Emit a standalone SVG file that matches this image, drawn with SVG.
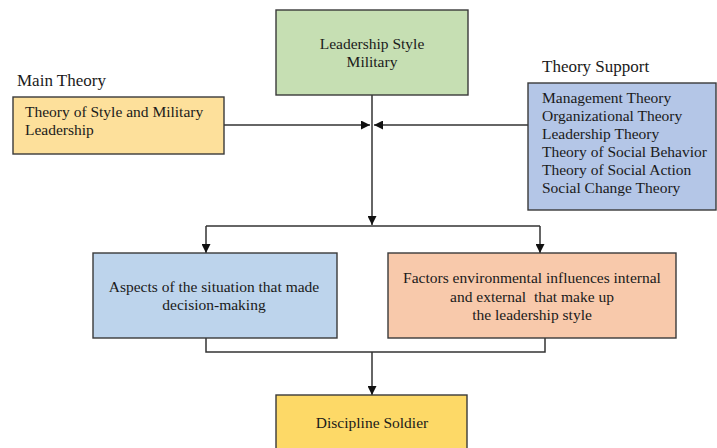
<svg xmlns="http://www.w3.org/2000/svg" width="717" height="448" viewBox="0 0 717 448">
<style>
text{font-family:"Liberation Serif","Times New Roman",serif;font-size:15.5px;fill:#1a1a1a;white-space:pre}
.lbl{font-size:17px}
.c{text-anchor:middle}
rect{stroke:#3a3a3a;stroke-width:1.4}
.ln{fill:none;stroke:#333;stroke-width:1.5}
</style>
<defs>
<marker id="ah" markerUnits="userSpaceOnUse" markerWidth="9" markerHeight="9" refX="9" refY="4.5" orient="auto" viewBox="0 0 9 9">
<path d="M0,0 L9,4.5 L0,9 z" fill="#111"/>
</marker>
</defs>
<rect width="717" height="448" fill="#fff" style="stroke:none"/>
<g id="connectors">
<path class="ln" d="M372,95 V225" marker-end="url(#ah)"/>
<path class="ln" d="M224,125 H370" marker-end="url(#ah)"/>
<path class="ln" d="M528,125 H374" marker-end="url(#ah)"/>
<path class="ln" d="M206,226 H540"/>
<path class="ln" d="M206,226 V253" marker-end="url(#ah)"/>
<path class="ln" d="M540,226 V253" marker-end="url(#ah)"/>
<path class="ln" d="M206,338 V352 H545 V338"/>
<path class="ln" d="M372,352 V395" marker-end="url(#ah)"/>
</g>
<g id="leadership-style">
<rect x="276" y="10" width="192" height="85" fill="#c6dfb3"/>
<text class="c" x="372" y="49">Leadership Style</text>
<text class="c" x="372" y="67">Military</text>
</g>
<g id="main-theory">
<text class="lbl" x="17" y="86">Main Theory</text>
<rect x="13" y="97" width="211" height="57" fill="#fde09b"/>
<text x="25" y="117">Theory of Style and Military</text>
<text x="25" y="135">Leadership</text>
</g>
<g id="theory-support">
<text class="lbl" x="542" y="72">Theory Support</text>
<rect x="528" y="83" width="188" height="127" fill="#b4c6e7"/>
<text x="542" y="103">Management Theory</text>
<text x="542" y="121">Organizational Theory</text>
<text x="542" y="139">Leadership Theory</text>
<text x="542" y="157">Theory of Social Behavior</text>
<text x="542" y="175">Theory of Social Action</text>
<text x="542" y="193">Social Change Theory</text>
</g>
<g id="aspects">
<rect x="93" y="253" width="244" height="85" fill="#bdd4ec"/>
<text class="c" x="214" y="292">Aspects of the situation that made</text>
<text class="c" x="214" y="310">decision-making</text>
</g>
<g id="factors">
<rect x="388" y="253" width="288" height="85" fill="#f8c9ab"/>
<text class="c" x="532" y="283">Factors environmental influences internal</text>
<text class="c" x="532" y="302">and external  that make up</text>
<text class="c" x="532" y="320">the leadership style</text>
</g>
<g id="discipline">
<rect x="276" y="395" width="191" height="60" fill="#fdd967"/>
<text class="c" x="372" y="428">Discipline Soldier</text>
</g>
</svg>
